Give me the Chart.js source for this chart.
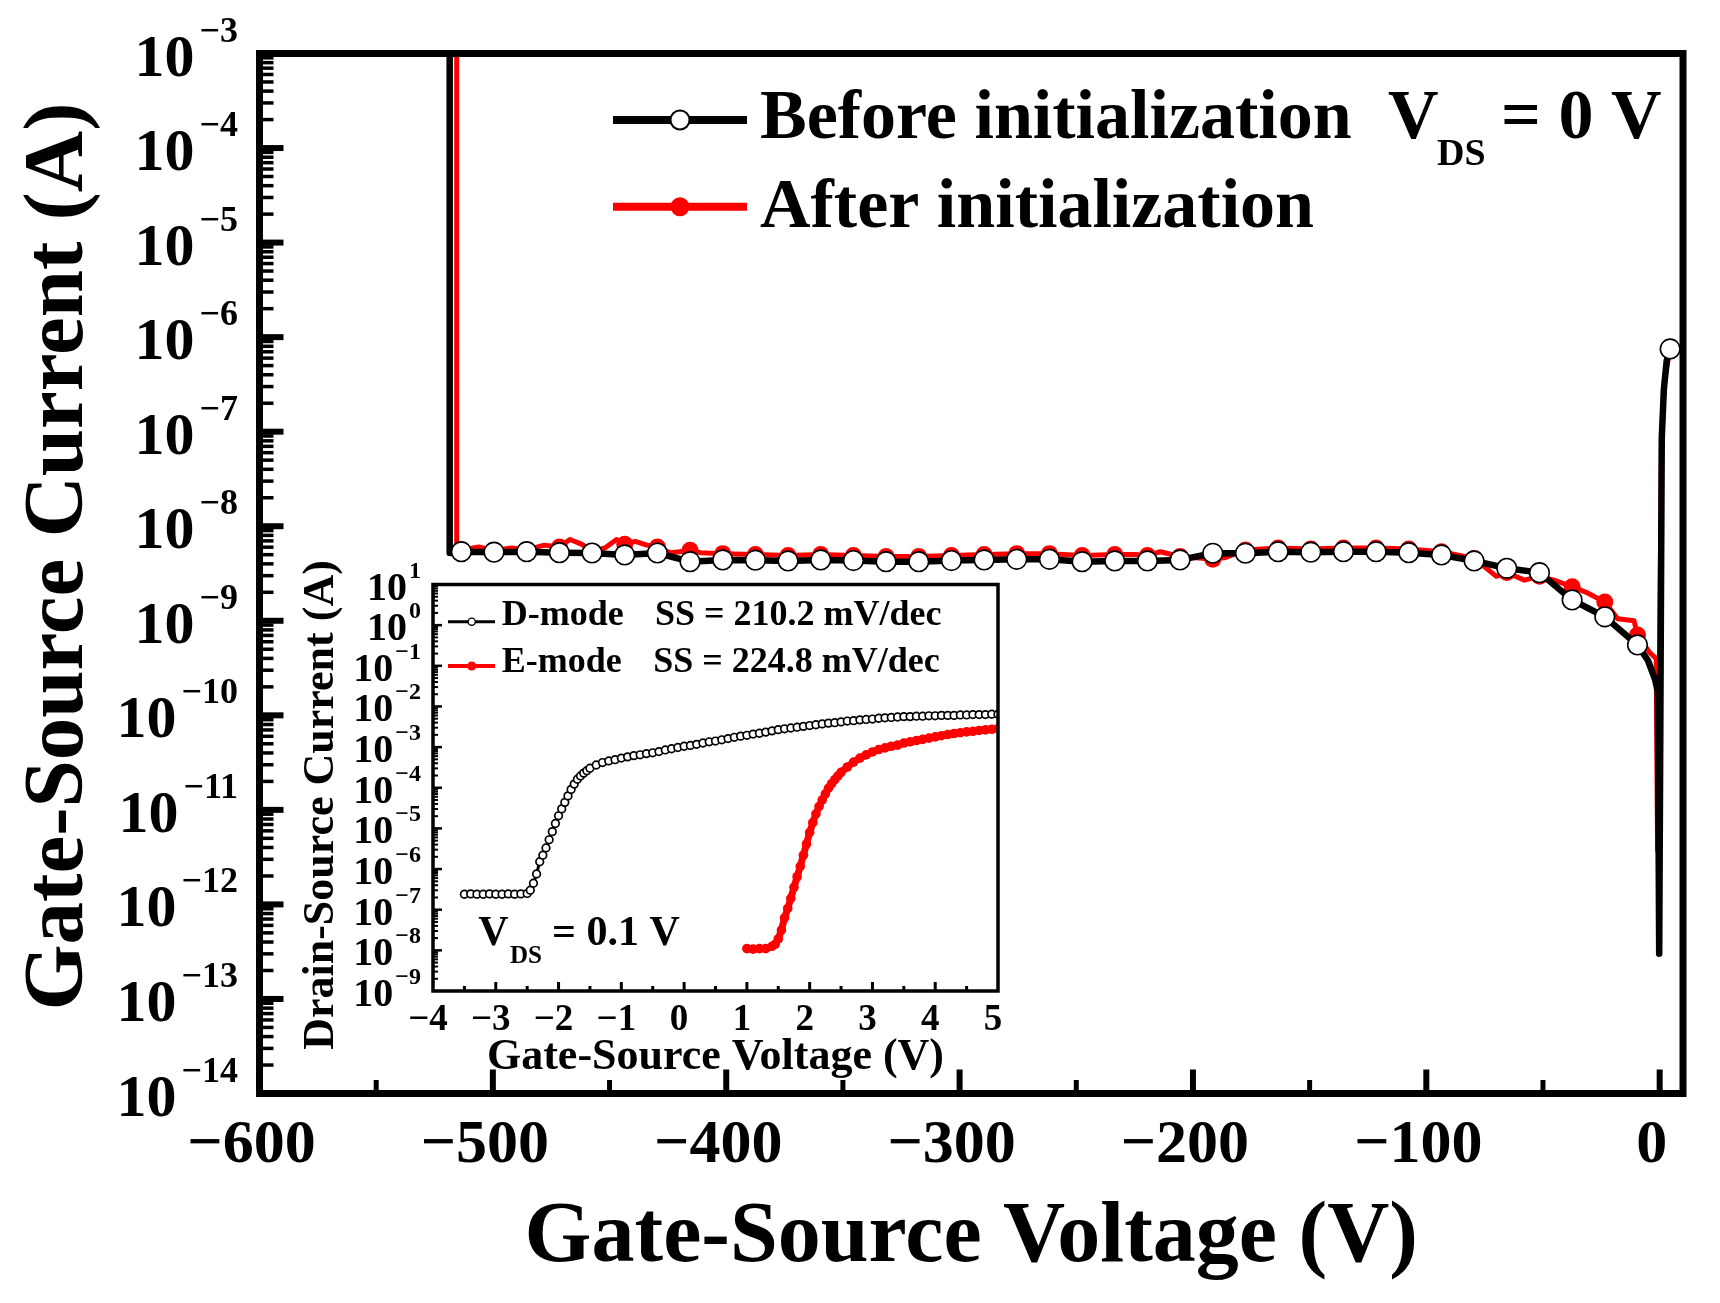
<!DOCTYPE html>
<html><head><meta charset="utf-8">
<script src="https://cdn.jsdelivr.net/npm/chart.js@4.4.1/dist/chart.umd.min.js"></script>
<style>
html,body{margin:0;padding:0;background:#fff;}
#wrap{position:relative;width:1720px;height:1303px;overflow:hidden;background:#fff;}
#main{position:absolute;left:0;top:0;}
#inset{position:absolute;left:280px;top:540px;}
</style></head><body>
<div id="wrap">
<canvas id="main" width="1720" height="1303"></canvas>
<canvas id="inset" width="760" height="560"></canvas>
</div>
<script>
// ===== Main chart data (Gate-Source current vs Gate-Source voltage, VDS = 0 V) =====
const beforeV = [-518.5, -518.5, -513.5, -499.5, -485.5, -471.5, -457.5, -443.5, -429.5, -415.5, -401.5, -387.5, -373.5, -359.5, -345.5, -331.5, -317.5, -303.5, -289.5, -275.5, -261.5, -247.5, -233.5, -219.5, -205.5, -191.5, -177.5, -163.5, -149.5, -135.5, -121.5, -107.5, -93.5, -79.5, -65.5, -51.5, -37.5, -23.5, -9.5, -5, -2, -0.8, -0.2, 0.9, 1.8, 3.0, 4.5];
const beforeI = [1e-3, 5.2e-9, 5.38e-9, 5.31e-9, 5.38e-9, 5.25e-9, 5.21e-9, 4.97e-9, 5.21e-9, 4.22e-9, 4.40e-9, 4.37e-9, 4.30e-9, 4.40e-9, 4.33e-9, 4.22e-9, 4.22e-9, 4.33e-9, 4.40e-9, 4.47e-9, 4.47e-9, 4.22e-9, 4.30e-9, 4.30e-9, 4.40e-9, 5.18e-9, 5.18e-9, 5.38e-9, 5.31e-9, 5.38e-9, 5.38e-9, 5.25e-9, 4.97e-9, 4.30e-9, 3.59e-9, 3.23e-9, 1.66e-9, 1.10e-9, 5.55e-10, 3.80e-10, 2.40e-10, 1.78e-10, 3.0e-13, 8.5e-8, 2.8e-7, 5.6e-7, 7.5e-7];
const afterV = [-515.5, -515.5, -513.5, -506, -499.5, -492, -485.5, -478, -471.5, -467, -462, -457.5, -452, -447, -443.5, -439, -434, -429.5, -424, -420, -415.5, -411, -401.5, -387.5, -373.5, -359.5, -345.5, -331.5, -317.5, -303.5, -289.5, -275.5, -261.5, -247.5, -233.5, -225, -219.5, -214, -205.5, -196, -191.5, -186, -177.5, -163.5, -149.5, -135.5, -121.5, -107.5, -93.5, -79.5, -70, -65.5, -58, -51.5, -45, -37.5, -31.5, -23.5, -18, -11, -9.5, -4.5, -1.5, -0.9, 0.8, 1.8, 4.5];
const afterI = [1e-3, 6.6e-9, 5.62e-9, 6.03e-9, 5.55e-9, 5.89e-9, 5.62e-9, 6.31e-9, 6.03e-9, 7.24e-9, 6.46e-9, 5.45e-9, 5.89e-9, 7.24e-9, 6.46e-9, 6.92e-9, 6.31e-9, 6.03e-9, 5.25e-9, 5.37e-9, 5.56e-9, 5.25e-9, 5.13e-9, 5.01e-9, 4.90e-9, 5.01e-9, 4.90e-9, 4.79e-9, 4.79e-9, 4.90e-9, 5.01e-9, 5.13e-9, 5.13e-9, 4.90e-9, 5.01e-9, 5.01e-9, 4.90e-9, 5.37e-9, 4.79e-9, 4.57e-9, 4.47e-9, 4.68e-9, 5.62e-9, 5.89e-9, 5.75e-9, 5.89e-9, 5.89e-9, 5.75e-9, 5.37e-9, 4.57e-9, 2.95e-9, 3.24e-9, 2.69e-9, 2.95e-9, 2.67e-9, 2.29e-9, 2.00e-9, 1.58e-9, 1.05e-9, 1.00e-9, 7.08e-10, 4.68e-10, 3.98e-10, 3.72e-12, 7.94e-8, 3.16e-7, 7.76e-7];
const markerV = [-513.5, -499.5, -485.5, -471.5, -457.5, -443.5, -429.5, -415.5, -401.5, -387.5, -373.5, -359.5, -345.5, -331.5, -317.5, -303.5, -289.5, -275.5, -261.5, -247.5, -233.5, -219.5, -205.5, -191.5, -177.5, -163.5, -149.5, -135.5, -121.5, -107.5, -93.5, -79.5, -65.5, -51.5, -37.5, -23.5, -9.5, 4.5];
const mainXTicks = [-600, -500, -400, -300, -200, -100, 0];
const mainYExponents = [-3, -4, -5, -6, -7, -8, -9, -10, -11, -12, -13, -14];
const mainSeriesNames = ['Before initialization', 'After initialization'];

// ===== Inset data (Drain-Source current vs Gate-Source voltage, VDS = 0.1 V) =====
const dModeV = [-3.5, -3.4, -3.3, -3.2, -3.1, -3.0, -2.9, -2.8, -2.7, -2.6, -2.5, -2.45, -2.4, -2.35, -2.3, -2.25, -2.2, -2.15, -2.1, -2.05, -2.0, -1.95, -1.9, -1.85, -1.8, -1.75, -1.7, -1.65, -1.6, -1.55, -1.5, -1.4, -1.3, -1.2, -1.1, -1.0, -0.9, -0.8, -0.7, -0.6, -0.5, -0.4, -0.3, -0.2, -0.1, 0.0, 0.1, 0.2, 0.3, 0.4, 0.5, 0.6, 0.7, 0.8, 0.9, 1.0, 1.1, 1.2, 1.3, 1.4, 1.5, 1.6, 1.7, 1.8, 1.9, 2.0, 2.1, 2.2, 2.3, 2.4, 2.5, 2.6, 2.7, 2.8, 2.9, 3.0, 3.1, 3.2, 3.3, 3.4, 3.5, 3.6, 3.7, 3.8, 3.9, 4.0, 4.1, 4.2, 4.3, 4.4, 4.5, 4.6, 4.7, 4.8, 4.9, 5.0];
const dModeI = [2.40e-7, 2.45e-7, 2.40e-7, 2.40e-7, 2.45e-7, 2.40e-7, 2.40e-7, 2.45e-7, 2.40e-7, 2.45e-7, 2.51e-7, 3.02e-7, 4.47e-7, 7.59e-7, 1.51e-6, 2.19e-6, 3.31e-6, 5.25e-6, 8.32e-6, 1.32e-5, 2.04e-5, 3.02e-5, 4.37e-5, 6.31e-5, 9.12e-5, 1.23e-4, 1.62e-4, 1.95e-4, 2.29e-4, 2.63e-4, 3.02e-4, 3.63e-4, 4.17e-4, 4.57e-4, 4.90e-4, 5.37e-4, 5.75e-4, 6.17e-4, 6.46e-4, 6.92e-4, 7.24e-4, 7.76e-4, 8.51e-4, 9.12e-4, 9.77e-4, 1.05e-3, 1.10e-3, 1.17e-3, 1.26e-3, 1.35e-3, 1.41e-3, 1.51e-3, 1.62e-3, 1.74e-3, 1.86e-3, 1.95e-3, 2.09e-3, 2.19e-3, 2.34e-3, 2.51e-3, 2.69e-3, 2.82e-3, 2.95e-3, 3.09e-3, 3.24e-3, 3.39e-3, 3.55e-3, 3.72e-3, 3.89e-3, 3.98e-3, 4.17e-3, 4.37e-3, 4.47e-3, 4.68e-3, 4.79e-3, 4.90e-3, 5.13e-3, 5.25e-3, 5.37e-3, 5.50e-3, 5.62e-3, 5.62e-3, 5.75e-3, 5.75e-3, 5.89e-3, 5.89e-3, 6.03e-3, 6.03e-3, 6.03e-3, 6.17e-3, 6.17e-3, 6.31e-3, 6.31e-3, 6.31e-3, 6.46e-3, 6.46e-3];
const eModeV = [1.0, 1.1, 1.2, 1.3, 1.4, 1.45, 1.5, 1.55, 1.6, 1.65, 1.7, 1.75, 1.8, 1.85, 1.9, 1.95, 2.0, 2.05, 2.1, 2.15, 2.2, 2.25, 2.3, 2.35, 2.4, 2.45, 2.5, 2.6, 2.7, 2.8, 2.9, 3.0, 3.1, 3.2, 3.3, 3.4, 3.5, 3.6, 3.7, 3.8, 3.9, 4.0, 4.1, 4.2, 4.3, 4.4, 4.5, 4.6, 4.7, 4.8, 4.9, 5.0];
const eModeI = [1.10e-8, 1.07e-8, 1.10e-8, 1.10e-8, 1.26e-8, 1.41e-8, 1.91e-8, 3.16e-8, 6.31e-8, 1.07e-7, 1.91e-7, 3.55e-7, 6.46e-7, 1.17e-6, 2.19e-6, 4.17e-6, 7.94e-6, 1.38e-5, 2.29e-5, 3.47e-5, 5.01e-5, 7.08e-5, 9.77e-5, 1.26e-4, 1.58e-4, 1.95e-4, 2.40e-4, 3.24e-4, 4.27e-4, 5.37e-4, 6.46e-4, 7.59e-4, 8.71e-4, 9.55e-4, 1.05e-3, 1.12e-3, 1.26e-3, 1.35e-3, 1.45e-3, 1.55e-3, 1.66e-3, 1.78e-3, 1.91e-3, 2.04e-3, 2.16e-3, 2.26e-3, 2.37e-3, 2.45e-3, 2.57e-3, 2.66e-3, 2.75e-3, 2.85e-3];
const insetXTicks = [-4, -3, -2, -1, 0, 1, 2, 3, 4, 5];
const insetYExponents = [1, 0, -1, -2, -3, -4, -5, -6, -7, -8, -9];
const insetSeriesNames = ['D-mode', 'E-mode'];
const insetSS = ['SS = 210.2 mV/dec', 'SS = 224.8 mV/dec'];

// ===== helpers =====
const FONT = "'Liberation Serif', 'Times New Roman', serif";
const MINUS = '\u2212';
Chart.defaults.font.family = FONT;
Chart.defaults.color = '#000';
function fmtNum(v) { return v < 0 ? MINUS + Math.abs(v) : String(v); }
function pts(xs, ys) { return xs.map((x, i) => ({ x: x, y: ys[i] })); }
function seg(ctx, x1, y1, x2, y2, w, c) {
  ctx.beginPath(); ctx.lineWidth = w; ctx.strokeStyle = c; ctx.lineCap = 'butt';
  ctx.moveTo(x1, y1); ctx.lineTo(x2, y2); ctx.stroke();
}
function dot(ctx, x, y, r, fill, stroke, w) {
  ctx.beginPath(); ctx.arc(x, y, r, 0, Math.PI * 2);
  ctx.fillStyle = fill; ctx.fill();
  if (stroke) { ctx.lineWidth = w; ctx.strokeStyle = stroke; ctx.stroke(); }
}
function txt(ctx, s, x, y, size, align) {
  ctx.font = 'bold ' + size + 'px ' + FONT;
  ctx.fillStyle = '#000'; ctx.textAlign = align || 'left'; ctx.textBaseline = 'alphabetic';
  ctx.fillText(s, x, y);
}
function rotText(ctx, s, x, y, size) {
  ctx.save(); ctx.translate(x, y); ctx.rotate(-Math.PI / 2);
  txt(ctx, s, 0, 0, size, 'center'); ctx.restore();
}
function powLabel(ctx, e, rightX, y, baseSize, supSize, baseDy, supDy, gap) {
  ctx.font = 'bold ' + supSize + 'px ' + FONT;
  const s = fmtNum(e); const sw = ctx.measureText(s).width;
  txt(ctx, s, rightX, y + supDy, supSize, 'right');
  txt(ctx, '10', rightX - sw - gap, y + baseDy, baseSize, 'right');
}

// ===== main chart =====
const beforePts = pts(beforeV, beforeI);
const afterPts = pts(afterV, afterI);
const beforeMarks = beforePts.filter(p => markerV.includes(p.x));
const afterMarks = afterPts.filter(p => markerV.includes(p.x));

const mainDeco = {
  id: 'mainDeco',
  afterDraw(chart) {
    const ctx = chart.ctx, a = chart.chartArea, xs = chart.scales.x, ys = chart.scales.y;
    ctx.save();
    ctx.lineWidth = 7; ctx.strokeStyle = '#000'; ctx.lineJoin = 'miter';
    ctx.strokeRect(a.left, a.top, a.right - a.left, a.bottom - a.top);
    mainYExponents.forEach(e => {
      const y = ys.getPixelForValue(Math.pow(10, e));
      if (y > a.top + 5 && y < a.bottom - 5) seg(ctx, a.left, y, a.left + 24, y, 6, '#000');
      if (e < -3) {
        for (let m = 2; m <= 9; m++) {
          const ym = ys.getPixelForValue(m * Math.pow(10, e));
          seg(ctx, a.left, ym, a.left + 14, ym, 3.5, '#000');
        }
      }
      powLabel(ctx, e, 238, y, 60, 36, 22, -12, 5);
    });
    mainXTicks.forEach((v, i) => {
      const x = xs.getPixelForValue(v);
      if (x > a.left + 5) seg(ctx, x, a.bottom, x, a.bottom - 24, 6, '#000');
      if (i < mainXTicks.length - 1) {
        const xm = xs.getPixelForValue((v + mainXTicks[i + 1]) / 2);
        seg(ctx, xm, a.bottom, xm, a.bottom - 13.5, 5, '#000');
      }
    });
    rotText(ctx, 'Gate-Source Current (A)', 82, 556.5, 85);
    seg(ctx, 613, 120, 747, 120, 8, '#000');
    dot(ctx, 680, 120, 9.5, '#fff', '#000', 2);
    txt(ctx, mainSeriesNames[0], 760, 138.3, 70);
    seg(ctx, 613, 206.7, 747, 206.7, 8, '#ff0000');
    dot(ctx, 680, 206.7, 9.5, '#ff0000', null, 0);
    txt(ctx, mainSeriesNames[1], 760, 226.7, 70);
    txt(ctx, 'V', 1388, 138, 70);
    txt(ctx, 'DS', 1437, 165, 38);
    txt(ctx, '= 0 V', 1501, 138, 70);
    ctx.restore();
  }
};

new Chart(document.getElementById('main'), {
  type: 'scatter',
  data: {
    datasets: [
      { label: mainSeriesNames[0] + ' markers', data: beforeMarks, showLine: false, pointRadius: 9.8, pointBorderWidth: 1.6, pointBackgroundColor: '#fff', pointBorderColor: '#000', order: 0 },
      { label: mainSeriesNames[0], data: beforePts, showLine: true, borderColor: '#000', borderWidth: 6.5, pointRadius: 0, borderJoinStyle: 'round', tension: 0, order: 1 },
      { label: mainSeriesNames[1] + ' markers', data: afterMarks, showLine: false, pointRadius: 8.5, pointBorderWidth: 0, pointBackgroundColor: '#ff0000', pointBorderColor: '#ff0000', order: 2 },
      { label: mainSeriesNames[1], data: afterPts, showLine: true, borderColor: '#ff0000', borderWidth: 5, pointRadius: 0, borderJoinStyle: 'round', tension: 0, order: 3 }
    ]
  },
  options: {
    responsive: false, animation: false, devicePixelRatio: 1, events: [],
    layout: { padding: { top: 53.5, right: 37, bottom: 0, left: 0 } },
    plugins: { legend: { display: false }, tooltip: { enabled: false } },
    scales: {
      x: {
        type: 'linear', min: -600, max: 10,
        afterBuildTicks: s => { s.ticks = mainXTicks.map(v => ({ value: v })); },
        ticks: { font: { family: FONT, size: 62, weight: 'bold' }, color: '#000', padding: 15.3, labelOffset: -8, maxRotation: 0, autoSkip: false, callback: v => fmtNum(v) },
        grid: { display: false, drawTicks: false }, border: { display: false },
        title: { display: true, text: 'Gate-Source Voltage (V)', font: { family: FONT, size: 86, weight: 'bold' }, color: '#000', padding: { top: 0, bottom: 12.7 } },
        afterFit: s => { s.height = 209.5; }
      },
      y: {
        type: 'logarithmic', min: 1e-14, max: 1e-3,
        ticks: { display: false }, grid: { display: false, drawTicks: false }, border: { display: false },
        afterFit: s => { s.width = 259.5; }
      }
    }
  },
  plugins: [mainDeco]
});

// ===== inset chart =====
const insetDeco = {
  id: 'insetDeco',
  afterDraw(chart) {
    const ctx = chart.ctx, a = chart.chartArea, xs = chart.scales.x, ys = chart.scales.y;
    ctx.save();
    ctx.lineWidth = 3.5; ctx.strokeStyle = '#000';
    ctx.strokeRect(a.left, a.top, a.right - a.left, a.bottom - a.top);
    insetYExponents.forEach(e => {
      const y = ys.getPixelForValue(Math.pow(10, e));
      if (y > a.top + 3 && y < a.bottom - 3) seg(ctx, a.left, y, a.left + 9, y, 2.5, '#000');
      if (e < 1) {
        for (let m = 2; m <= 9; m++) {
          const ym = ys.getPixelForValue(m * Math.pow(10, e));
          seg(ctx, a.left, ym, a.left + 5, ym, 2, '#000');
        }
      }
      powLabel(ctx, e, 141, y, 40, 24, 15, -7, 2);
    });
    insetXTicks.forEach((v, i) => {
      const x = xs.getPixelForValue(v);
      if (x > a.left + 3 && x < a.right - 3) seg(ctx, x, a.bottom, x, a.bottom - 9, 3, '#000');
      if (i < insetXTicks.length - 1) {
        const xm = xs.getPixelForValue((v + insetXTicks[i + 1]) / 2);
        seg(ctx, xm, a.bottom, xm, a.bottom - 5, 3, '#000');
      }
    });
    rotText(ctx, 'Drain-Source Current (A)', 53.3, 265, 44);
    seg(ctx, 168, 81.7, 215, 81.7, 3, '#000');
    dot(ctx, 191.7, 81.7, 3.6, '#fff', '#000', 1.4);
    txt(ctx, insetSeriesNames[0], 221.7, 85, 36);
    txt(ctx, insetSS[0], 375, 85, 36);
    seg(ctx, 168, 126, 215, 126, 4, '#ff0000');
    dot(ctx, 191.7, 126, 4.5, '#ff0000', null, 0);
    txt(ctx, insetSeriesNames[1], 221.7, 131.7, 36);
    txt(ctx, insetSS[1], 373.3, 131.7, 36);
    txt(ctx, 'V', 198.3, 405, 42);
    txt(ctx, 'DS', 230, 423, 25);
    txt(ctx, '= 0.1 V', 272, 405, 42);
    ctx.restore();
  }
};

new Chart(document.getElementById('inset'), {
  type: 'scatter',
  data: {
    datasets: [
      { label: insetSeriesNames[0], data: pts(dModeV, dModeI), showLine: true, borderColor: '#000', borderWidth: 3, pointRadius: 3.8, pointBorderWidth: 1.7, pointBackgroundColor: '#fff', pointBorderColor: '#000', order: 0 },
      { label: insetSeriesNames[1], data: pts(eModeV, eModeI), showLine: true, borderColor: '#ff0000', borderWidth: 7, pointRadius: 4.8, pointBorderWidth: 0, pointBackgroundColor: '#ff0000', pointBorderColor: '#ff0000', borderJoinStyle: 'round', order: 1 }
    ]
  },
  options: {
    responsive: false, animation: false, devicePixelRatio: 1, events: [],
    layout: { padding: { top: 44.5, right: 42, bottom: 0, left: 0 } },
    plugins: { legend: { display: false }, tooltip: { enabled: false } },
    scales: {
      x: {
        type: 'linear', min: -4, max: 5,
        afterBuildTicks: s => { s.ticks = insetXTicks.map(v => ({ value: v })); },
        ticks: { font: { family: FONT, size: 37, weight: 'bold' }, color: '#000', padding: 7.6, labelOffset: -5, maxRotation: 0, autoSkip: false, callback: v => fmtNum(v) },
        grid: { display: false, drawTicks: false }, border: { display: false },
        title: { display: true, text: 'Gate-Source Voltage (V)', font: { family: FONT, size: 44, weight: 'bold' }, color: '#000', padding: { top: 0, bottom: 15.6 } },
        afterFit: s => { s.height = 109; }
      },
      y: {
        type: 'logarithmic', min: 1e-9, max: 1e1,
        ticks: { display: false }, grid: { display: false, drawTicks: false }, border: { display: false },
        afterFit: s => { s.width = 153; }
      }
    }
  },
  plugins: [insetDeco]
});
</script>
</body></html>
